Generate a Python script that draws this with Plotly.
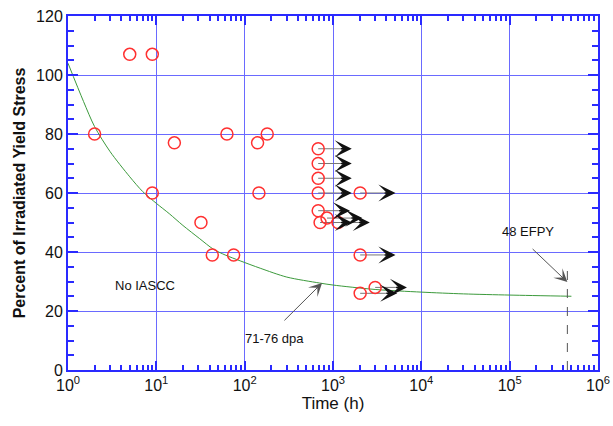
import plotly.graph_objects as go
import math

# data circles (not censored)
pts_x = [2, 5, 9, 9, 16, 32, 43, 75, 63, 140, 145, 180]
pts_y = [80, 107, 107, 60, 77, 50, 39, 39, 80, 77, 60, 80]

# censored (runout) points with arrows
run_x = [680, 680, 680, 680, 680, 714, 855, 1140, 2030, 2030, 2030, 3000]
run_y = [75, 70, 65, 60, 54, 50, 51.5, 50, 60, 39, 26, 28]
run_len = [0.38, 0.38, 0.38, 0.38, 0.36, 0.36, 0.40, 0.36, 0.40, 0.40, 0.42, 0.36]

# trend curve
curve_x = [1, 1.5, 2, 3, 5, 7, 10, 14, 20, 31, 44, 60, 89, 150, 300, 700, 1000,
           3000, 10000, 30000, 100000, 500000]
curve_y = [104, 91, 82.5, 74, 65.5, 60.5, 56.5, 53, 49, 44.5, 41, 39, 37, 34.5, 31.5,
           29.5, 28.8, 27.3, 26.4, 25.8, 25.4, 25]

efpy_x = 4.5e5

xtick_vals = [1, 10, 100, 1000, 10000, 100000, 1000000]
xtick_text = ["10<sup>0</sup>", "10<sup>1</sup>", "10<sup>2</sup>", "10<sup>3</sup>",
              "10<sup>4</sup>", "10<sup>5</sup>", "10<sup>6</sup>"]

BLUE = "#2a2aff"
GRID = "#6a6aff"
RED = "#ff3030"

fig = go.Figure()

fig.add_trace(go.Scatter(x=curve_x, y=curve_y, mode="lines", line_shape="spline",
                         line=dict(color="#3c9a3c", width=1, smoothing=0.8), hoverinfo="skip"))

fig.add_trace(go.Scatter(x=[efpy_x, efpy_x], y=[0, 35], mode="lines",
                         line=dict(color="#555555", width=1, dash="dash"), hoverinfo="skip"))

# arrow stems
sx, sy = [], []
for x, y, L in zip(run_x, run_y, run_len):
    sx += [x, 10 ** (math.log10(x) + L - 0.06), None]
    sy += [y, y, None]
fig.add_trace(go.Scatter(x=sx, y=sy, mode="lines",
                         line=dict(color="#777777", width=1), hoverinfo="skip"))

marker = dict(symbol="circle-open", size=12, color=RED, line=dict(width=1.5, color=RED))
fig.add_trace(go.Scatter(x=pts_x, y=pts_y, mode="markers", marker=marker))
fig.add_trace(go.Scatter(x=run_x, y=run_y, mode="markers", marker=marker))

annotations = []
for x, y, L in zip(run_x, run_y, run_len):
    tip = math.log10(x) + L
    annotations.append(dict(x=tip, y=y, ax=tip - 0.14, ay=y, xref="x", yref="y",
                            axref="x", ayref="y", showarrow=True, arrowhead=3,
                            arrowsize=1.9, arrowwidth=1.5, arrowcolor="#111111", text=""))

annotations.append(dict(x=math.log10(752), y=29.5, ax=math.log10(271), ay=16.3,
                        xref="x", yref="y", axref="x", ayref="y", showarrow=True,
                        arrowhead=3, arrowsize=2.2, arrowwidth=1, arrowcolor="#555555", text=""))
annotations.append(dict(x=math.log10(220), y=10.8, text="71-76 dpa", showarrow=False,
                        xref="x", yref="y", font=dict(size=13, color="#111111")))
annotations.append(dict(x=math.log10(efpy_x), y=29.8, ax=math.log10(1.75e5), ay=41.5,
                        xref="x", yref="y", axref="x", ayref="y", showarrow=True,
                        arrowhead=3, arrowsize=2.2, arrowwidth=1, arrowcolor="#555555", text=""))
annotations.append(dict(x=math.log10(1.6e5), y=46.8, text="48 EFPY", showarrow=False,
                        xref="x", yref="y", font=dict(size=13, color="#111111")))
annotations.append(dict(x=math.log10(7.5), y=28.8, text="No IASCC", showarrow=False,
                        xref="x", yref="y", font=dict(size=13, color="#111111")))

fig.update_layout(
    width=613, height=426,
    margin=dict(l=68, r=15, t=16, b=56),
    plot_bgcolor="white", paper_bgcolor="white",
    showlegend=False,
    font=dict(family="Liberation Sans, Arial, sans-serif", color="#111111"),
    annotations=annotations,
)
fig.update_xaxes(
    type="log", range=[0, 6], tickvals=xtick_vals, ticktext=xtick_text,
    automargin=False,
    showgrid=True, gridcolor=GRID, gridwidth=1,
    showline=True, linecolor=BLUE, linewidth=2, mirror="ticks",
    ticks="inside", ticklen=9, tickcolor=BLUE, tickwidth=1.5,
    minor=dict(ticks="inside", ticklen=5, tickcolor=BLUE, dtick="D1", showgrid=False),
    tickfont=dict(size=16), zeroline=False,
    title=dict(text="Time (h)", font=dict(size=17), standoff=2),
)
fig.update_yaxes(
    range=[0, 120], dtick=20, automargin=False,
    showgrid=True, gridcolor=GRID, gridwidth=1,
    showline=True, linecolor=BLUE, linewidth=2, mirror="ticks",
    ticks="inside", ticklen=10, tickcolor=BLUE, tickwidth=1.5,
    minor=dict(ticks="inside", ticklen=6, tickcolor=BLUE, dtick=5, showgrid=False),
    tickfont=dict(size=16), zeroline=False,
    title=dict(text="<b>Percent of Irradiated Yield Stress</b>", font=dict(size=16), standoff=6),
)

# remove the browser's default 8px body margin so the figure fills the window
fig.write_html("out.html", config={"displayModeBar": False},
               post_script="document.body.style.margin='0';document.body.style.overflow='hidden';")
